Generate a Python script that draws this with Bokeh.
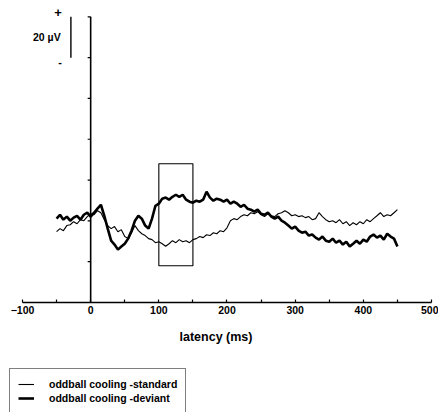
from bokeh.plotting import figure
from bokeh.models import Range1d, FixedTicker, Legend, LegendItem
from bokeh.layouts import column
from bokeh.core.properties import value
from bokeh.embed import file_html
from bokeh.resources import INLINE

# ---- data ----
latency_ms = [-50, -45, -40, -35, -30, -25, -20, -15, -10, -5,
              0, 5, 10, 15, 20, 25, 30, 35, 40, 45,
              50, 55, 60, 65, 70, 75, 80, 85, 90, 95,
              100, 105, 110, 115, 120, 125, 130, 135, 140, 145,
              150, 155, 160, 165, 170, 175, 180, 185, 190, 195,
              200, 205, 210, 215, 220, 225, 230, 235, 240, 245,
              250, 255, 260, 265, 270, 275, 280, 285, 290, 295,
              300, 305, 310, 315, 320, 325, 330, 335, 340, 345,
              350, 355, 360, 365, 370, 375, 380, 385, 390, 395,
              400, 405, 410, 415, 420, 425, 430, 435, 440, 445, 450]

standard_uv = [-5.3, -3.8, -4.8, -2.3, -1.9, -0.4, -1.4, 0.6, 0.1, 2.1,
               3.5, 3.0, 5.0, 4.0, 0.6, -2.3, -3.8, -2.8, -5.3, -4.3,
               -7.7, -8.7, -5.8, -2.3, -4.8, -6.3, -7.2, -8.7, -9.2, -10.7,
               -10.2, -11.2, -12.4, -11.2, -9.7, -10.7, -9.2, -10.2, -9.7, -10.7,
               -9.2, -8.7, -7.7, -8.2, -6.8, -7.2, -5.8, -6.3, -4.8, -5.3,
               -3.4, 0.1, 1.1, 0.6, 2.1, 3.0, 2.5, 4.0, 3.5, 4.5,
               3.0, 2.1, 3.5, 2.5, 2.1, 3.5, 4.0, 5.0, 4.0, 2.5,
               3.0, 2.1, 2.5, 1.6, 2.1, 0.6, 1.1, 4.0, 2.1, 0.6,
               -0.4, 0.1, -0.9, 0.6, -1.4, -0.4, -2.3, -0.9, -1.9, -0.4,
               -1.4, 0.6, -0.4, 1.1, 2.5, 4.0, 2.1, 3.0, 2.5, 4.0, 5.5]

deviant_uv = [1.1, 3.0, 0.6, 2.1, 0.1, 1.6, 2.5, 0.6, 3.0, 4.0,
              2.1, 4.0, 6.0, 7.9, 2.5, -3.8, -9.7, -11.6, -14.1, -12.6,
              -11.2, -8.7, -4.8, 0.1, 2.5, 1.1, -2.3, -3.8, 1.1, 7.4,
              8.4, 10.9, 11.4, 10.4, 11.8, 12.8, 11.8, 12.8, 10.4, 9.4,
              8.9, 9.9, 9.4, 10.4, 14.3, 11.4, 9.9, 10.9, 10.4, 9.4,
              10.4, 8.4, 9.4, 8.4, 6.9, 7.9, 6.0, 5.5, 4.5, 5.5,
              3.5, 3.0, 4.0, 2.1, 1.1, 2.1, 0.1, -0.9, -2.3, -3.8,
              -2.8, -4.8, -5.8, -5.3, -7.2, -6.7, -8.2, -9.2, -7.7, -9.7,
              -10.2, -8.7, -10.7, -9.7, -11.6, -10.2, -12.6, -11.2, -9.7, -11.2,
              -9.2, -10.2, -7.7, -6.7, -8.2, -7.2, -9.2, -6.3, -7.7, -8.7, -12.6]

x_ticks = [-100, 0, 100, 200, 300, 400, 500]
x_minor_ticks = [-50, 50, 150, 250, 350, 450]
y_ticks = [-40, -20, 0, 20, 40, 60, 80, 100]

window_ms = [100, 150]        # analysis window
window_uv = [-22, 28]

scale_bar_uv = [80, 100]      # 20 µV calibration bar
scale_bar_ms = -29

series_labels = ["oddball cooling -standard", "oddball cooling -deviant"]

FONT = value("Liberation Sans")

# frame spans the full width; the axis line is bounded to the tick range
p = figure(width=438, height=360, output_backend="svg", toolbar_location=None,
           x_range=Range1d(-132.27, 500), y_range=Range1d(-40, 108),
           y_axis_location=None, min_border_left=0, min_border_right=7,
           min_border_top=0, min_border_bottom=58)
p.title.visible = False
p.grid.visible = False
p.outline_line_color = None
p.background_fill_color = "white"
p.border_fill_color = "white"

# x axis
ax = p.xaxis[0]
ax.ticker = FixedTicker(ticks=x_ticks, minor_ticks=x_minor_ticks)
ax.bounds = (min(x_ticks), max(x_ticks))
ax.axis_line_width = 1.6
ax.axis_line_color = "black"
ax.major_tick_in = 3
ax.major_tick_out = 0
ax.minor_tick_in = 3
ax.minor_tick_out = 0
ax.major_tick_line_width = 1.2
ax.minor_tick_line_width = 1.2
ax.major_label_text_font = "Liberation Sans"
ax.major_label_text_font_style = "bold"
ax.major_label_text_font_size = "10.5px"
ax.major_label_text_color = "black"
ax.major_label_standoff = 3
ax.axis_label = "latency (ms)"
ax.axis_label_text_font = "Liberation Sans"
ax.axis_label_text_font_style = "bold"
ax.axis_label_text_font_size = "12.5px"
ax.axis_label_text_color = "black"
ax.axis_label_standoff = 13

# y axis drawn at latency 0
p.segment(x0=[0], y0=[min(y_ticks)], x1=[0], y1=[max(y_ticks)],
          line_color="black", line_width=1.6)
tick_len = 4.4
p.segment(x0=[-tick_len] * len(y_ticks), y0=y_ticks, x1=[0] * len(y_ticks), y1=y_ticks,
          line_color="black", line_width=1.2)

# calibration bar
p.segment(x0=[scale_bar_ms], y0=[scale_bar_uv[0]], x1=[scale_bar_ms], y1=[scale_bar_uv[1]],
          line_color="black", line_width=1.4)
p.text(x=[scale_bar_ms - 15], y=[(scale_bar_uv[0] + scale_bar_uv[1]) / 2], text=["20 µV"],
       text_font=FONT, text_font_style="bold", text_font_size="10.5px",
       text_align="right", text_baseline="middle", text_color="black")
p.text(x=[scale_bar_ms - 19], y=[scale_bar_uv[1] + 2], text=["+"],
       text_font=FONT, text_font_style="bold", text_font_size="13px",
       text_align="center", text_baseline="middle", text_color="black")
p.text(x=[scale_bar_ms - 16], y=[scale_bar_uv[0] - 2], text=["-"],
       text_font=FONT, text_font_style="bold", text_font_size="11px",
       text_align="center", text_baseline="middle", text_color="black")

# analysis window box
p.quad(left=[window_ms[0]], right=[window_ms[1]], bottom=[window_uv[0]], top=[window_uv[1]],
       fill_color=None, line_color="black", line_width=1.1)

# waveforms
STD_W, DEV_W = 1.1, 2.6
p.line(latency_ms, standard_uv, line_color="black", line_width=STD_W)
p.line(latency_ms, deviant_uv, line_color="black", line_width=DEV_W)

# legend strip below the chart (renderers hidden; only their legend glyphs show)
p2 = figure(width=438, height=52, output_backend="svg", toolbar_location=None,
            x_range=Range1d(0, 438), y_range=Range1d(0, 52),
            x_axis_location=None, y_axis_location=None, min_border=0,
            min_border_left=0, min_border_right=0, min_border_top=0, min_border_bottom=0)
p2.title.visible = False
p2.grid.visible = False
p2.outline_line_color = None
p2.border_fill_color = "white"
l_std = p2.line(latency_ms, standard_uv, line_color="black", line_width=STD_W, visible=False)
l_dev = p2.line(latency_ms, deviant_uv, line_color="black", line_width=DEV_W, visible=False)
legend = Legend(items=[LegendItem(label=series_labels[0], renderers=[l_std]),
                       LegendItem(label=series_labels[1], renderers=[l_dev])],
                location=(9, -2), padding=8, spacing=0,
                glyph_width=16, glyph_height=14, label_height=14, label_standoff=15,
                label_text_font="Liberation Sans", label_text_font_style="bold",
                label_text_font_size="10.5px", label_text_color="black",
                border_line_color="black", border_line_width=1,
                background_fill_alpha=1.0, margin=0)
p2.add_layout(legend)

layout = column(p, p2, spacing=0)
open("out.html", "w").write(file_html(layout, INLINE))
